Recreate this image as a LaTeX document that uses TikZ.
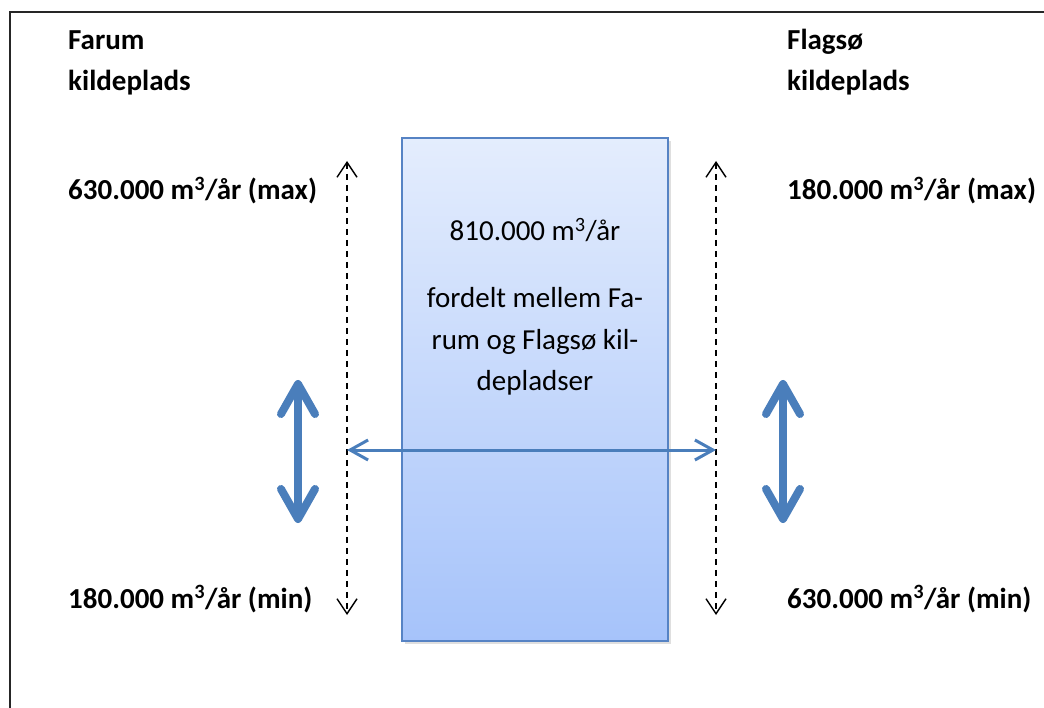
\documentclass[tikz,border=0pt]{standalone}
\usepackage{fontspec}
\setmainfont{Carlito}
\usetikzlibrary{arrows.meta,shadows}

\definecolor{boxtop}{HTML}{E4EDFD}
\definecolor{boxbot}{HTML}{A6C3FA}
\definecolor{boxline}{HTML}{5683C4}
\definecolor{arrowblue}{HTML}{4A7EBB}

\tikzset{
  sitetext/.style={font=\fontsize{29}{34}\selectfont\bfseries,anchor=base west,inner sep=0pt},
  boxtext/.style={font=\fontsize{29}{34}\selectfont,anchor=base,inner sep=0pt},
  rangearrow/.style={draw=black,line width=1.4pt,dash pattern=on 6pt off 5pt,
    {Straight Barb[length=15pt,width=20pt]}-{Straight Barb[length=15pt,width=20pt]}},
  shiftarrow/.style={draw=arrowblue,line width=8pt,
    {Straight Barb[length=30pt,width=34pt,round]}-{Straight Barb[length=30pt,width=34pt,round]}},
  sharearrow/.style={draw=arrowblue,line width=3pt,
    {Straight Barb[length=18pt,width=20pt]}-{Straight Barb[length=18pt,width=20pt]}}
}

\begin{document}
\begin{tikzpicture}[x=1pt,y=-1pt]
   \useasboundingbox[fill=white] (0,0) rectangle (1044,708);
   \draw[line width=1.5pt,black!85] (10,708) |- (1044,12);

   % central box
   \node (box) [draw=boxline,line width=1.5pt,top color=boxtop,bottom color=boxbot,
     minimum width=266pt,minimum height=503pt,inner sep=0pt,
     drop shadow={shadow xshift=3pt,shadow yshift=-3pt,opacity=0.25}] at (535,389.5) {};

   \begin{scope}[every node/.style={sitetext}]
    \node (farum) at (68,50) {Farum};
    \node (farumk) at (68,91) {kildeplads};
    \node (farummax) at (68,200) {630.000 m\textsuperscript{3}/år (max)};
    \node (farummin) at (68,608) {180.000 m\textsuperscript{3}/år (min)};
    \node (flag) at (787,50) {Flagsø};
    \node (flagk) at (787,91) {kildeplads};
    \node (flagmax) at (787,200) {180.000 m\textsuperscript{3}/år (max)};
    \node (flagmin) at (787,608) {630.000 m\textsuperscript{3}/år (min)};
   \end{scope}
   \begin{scope}[every node/.style={boxtext}]
    \node (total) at (535,241) {810.000 m\textsuperscript{3}/år};
    \node (line1) at (535,308) {fordelt mellem Fa-};
    \node (line2) at (535,350) {rum og Flagsø kil-};
    \node (line3) at (535,391) {depladser};
   \end{scope}

   \coordinate (ltop) at (347,161);
   \coordinate (lbot) at (347,615);
   \coordinate (rtop) at (716,161);
   \coordinate (rbot) at (716,615);
   \coordinate (lmid) at (347,450);
   \coordinate (rmid) at (716,450);
   \coordinate (fa1) at (298,380);
   \coordinate (fa2) at (298,523);
   \coordinate (fl1) at (783,380);
   \coordinate (fl2) at (783,523);

   \draw[rangearrow] (ltop) -- (lbot);
   \draw[rangearrow] (rtop) -- (rbot);
   \draw[sharearrow] (lmid) -- (rmid);
   \draw[shiftarrow] (fa1) -- (fa2);
   \draw[shiftarrow] (fl1) -- (fl2);
\end{tikzpicture}
\end{document}
